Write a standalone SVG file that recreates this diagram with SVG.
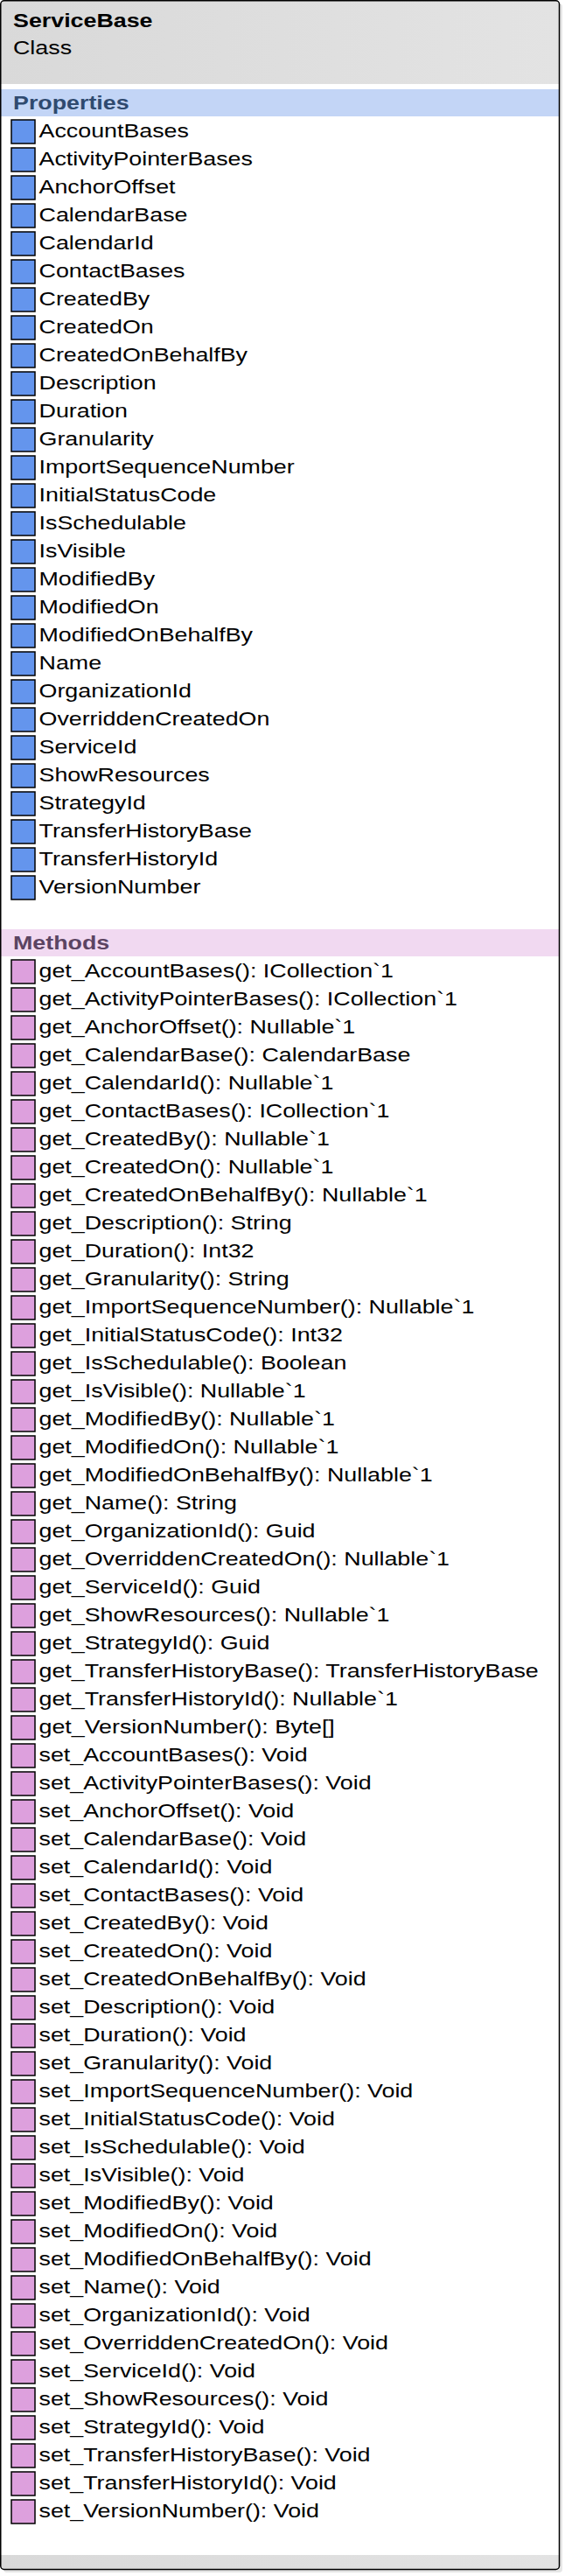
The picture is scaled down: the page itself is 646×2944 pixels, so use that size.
<svg xmlns="http://www.w3.org/2000/svg" width="646" height="2944" viewBox="0 0 646 2944">
<style>
.t{font-family:"Liberation Sans",Arial,sans-serif;font-size:22px;fill:#000}
.b{font-weight:bold}
.ph{fill:#2f4a6f}
.mh{fill:#5b4462}
.pi{fill:#6495ed;stroke:#000;stroke-width:1.5}
.mi{fill:#dda0dd;stroke:#000;stroke-width:1.5}
</style>
<defs>
<linearGradient id="hg" x1="0" y1="0" x2="1" y2="0">
<stop offset="0" stop-color="#d9d9d9"/>
<stop offset="1" stop-color="#e3e3e3"/>
</linearGradient>
<clipPath id="box"><rect x="0.75" y="0.75" width="638.75" height="2935.75" rx="4"/></clipPath>
</defs>
<rect width="646" height="2944" fill="#fff"/>
<g id="ServiceBase">
<rect x="4" y="4" width="639" height="2936" rx="4" fill="#e6e6e6"/>
<rect x="0.75" y="0.75" width="638.75" height="2935.75" rx="4" fill="#fff"/>
<g clip-path="url(#box)">
<rect x="0" y="0" width="640" height="96" fill="url(#hg)"/>
<rect x="0" y="102" width="640" height="31" fill="#c3d5f6"/>
<rect x="0" y="1062" width="640" height="31" fill="#f1d9f1"/>
<rect x="0" y="2920" width="640" height="17" fill="url(#hg)"/>
</g>
<rect x="0.75" y="0.75" width="638.75" height="2935.75" rx="4" fill="none" stroke="#000" stroke-width="1.5"/>
<g id="props-icons">
<rect class="pi" x="13" y="137" width="27" height="27"/>
<rect class="pi" x="13" y="169" width="27" height="27"/>
<rect class="pi" x="13" y="201" width="27" height="27"/>
<rect class="pi" x="13" y="233" width="27" height="27"/>
<rect class="pi" x="13" y="265" width="27" height="27"/>
<rect class="pi" x="13" y="297" width="27" height="27"/>
<rect class="pi" x="13" y="329" width="27" height="27"/>
<rect class="pi" x="13" y="361" width="27" height="27"/>
<rect class="pi" x="13" y="393" width="27" height="27"/>
<rect class="pi" x="13" y="425" width="27" height="27"/>
<rect class="pi" x="13" y="457" width="27" height="27"/>
<rect class="pi" x="13" y="489" width="27" height="27"/>
<rect class="pi" x="13" y="521" width="27" height="27"/>
<rect class="pi" x="13" y="553" width="27" height="27"/>
<rect class="pi" x="13" y="585" width="27" height="27"/>
<rect class="pi" x="13" y="617" width="27" height="27"/>
<rect class="pi" x="13" y="649" width="27" height="27"/>
<rect class="pi" x="13" y="681" width="27" height="27"/>
<rect class="pi" x="13" y="713" width="27" height="27"/>
<rect class="pi" x="13" y="745" width="27" height="27"/>
<rect class="pi" x="13" y="777" width="27" height="27"/>
<rect class="pi" x="13" y="809" width="27" height="27"/>
<rect class="pi" x="13" y="841" width="27" height="27"/>
<rect class="pi" x="13" y="873" width="27" height="27"/>
<rect class="pi" x="13" y="905" width="27" height="27"/>
<rect class="pi" x="13" y="937" width="27" height="27"/>
<rect class="pi" x="13" y="969" width="27" height="27"/>
<rect class="pi" x="13" y="1001" width="27" height="27"/>
</g>
<g id="method-icons">
<rect class="mi" x="13" y="1097" width="27" height="27"/>
<rect class="mi" x="13" y="1129" width="27" height="27"/>
<rect class="mi" x="13" y="1161" width="27" height="27"/>
<rect class="mi" x="13" y="1193" width="27" height="27"/>
<rect class="mi" x="13" y="1225" width="27" height="27"/>
<rect class="mi" x="13" y="1257" width="27" height="27"/>
<rect class="mi" x="13" y="1289" width="27" height="27"/>
<rect class="mi" x="13" y="1321" width="27" height="27"/>
<rect class="mi" x="13" y="1353" width="27" height="27"/>
<rect class="mi" x="13" y="1385" width="27" height="27"/>
<rect class="mi" x="13" y="1417" width="27" height="27"/>
<rect class="mi" x="13" y="1449" width="27" height="27"/>
<rect class="mi" x="13" y="1481" width="27" height="27"/>
<rect class="mi" x="13" y="1513" width="27" height="27"/>
<rect class="mi" x="13" y="1545" width="27" height="27"/>
<rect class="mi" x="13" y="1577" width="27" height="27"/>
<rect class="mi" x="13" y="1609" width="27" height="27"/>
<rect class="mi" x="13" y="1641" width="27" height="27"/>
<rect class="mi" x="13" y="1673" width="27" height="27"/>
<rect class="mi" x="13" y="1705" width="27" height="27"/>
<rect class="mi" x="13" y="1737" width="27" height="27"/>
<rect class="mi" x="13" y="1769" width="27" height="27"/>
<rect class="mi" x="13" y="1801" width="27" height="27"/>
<rect class="mi" x="13" y="1833" width="27" height="27"/>
<rect class="mi" x="13" y="1865" width="27" height="27"/>
<rect class="mi" x="13" y="1897" width="27" height="27"/>
<rect class="mi" x="13" y="1929" width="27" height="27"/>
<rect class="mi" x="13" y="1961" width="27" height="27"/>
<rect class="mi" x="13" y="1993" width="27" height="27"/>
<rect class="mi" x="13" y="2025" width="27" height="27"/>
<rect class="mi" x="13" y="2057" width="27" height="27"/>
<rect class="mi" x="13" y="2089" width="27" height="27"/>
<rect class="mi" x="13" y="2121" width="27" height="27"/>
<rect class="mi" x="13" y="2153" width="27" height="27"/>
<rect class="mi" x="13" y="2185" width="27" height="27"/>
<rect class="mi" x="13" y="2217" width="27" height="27"/>
<rect class="mi" x="13" y="2249" width="27" height="27"/>
<rect class="mi" x="13" y="2281" width="27" height="27"/>
<rect class="mi" x="13" y="2313" width="27" height="27"/>
<rect class="mi" x="13" y="2345" width="27" height="27"/>
<rect class="mi" x="13" y="2377" width="27" height="27"/>
<rect class="mi" x="13" y="2409" width="27" height="27"/>
<rect class="mi" x="13" y="2441" width="27" height="27"/>
<rect class="mi" x="13" y="2473" width="27" height="27"/>
<rect class="mi" x="13" y="2505" width="27" height="27"/>
<rect class="mi" x="13" y="2537" width="27" height="27"/>
<rect class="mi" x="13" y="2569" width="27" height="27"/>
<rect class="mi" x="13" y="2601" width="27" height="27"/>
<rect class="mi" x="13" y="2633" width="27" height="27"/>
<rect class="mi" x="13" y="2665" width="27" height="27"/>
<rect class="mi" x="13" y="2697" width="27" height="27"/>
<rect class="mi" x="13" y="2729" width="27" height="27"/>
<rect class="mi" x="13" y="2761" width="27" height="27"/>
<rect class="mi" x="13" y="2793" width="27" height="27"/>
<rect class="mi" x="13" y="2825" width="27" height="27"/>
<rect class="mi" x="13" y="2857" width="27" height="27"/>
</g>
<g id="texts" transform="scale(1.22,1)">
<text class="t b" x="12.3" y="31">ServiceBase</text>
<text class="t" x="12.3" y="62">Class</text>
<text class="t b ph" x="12.3" y="125">Properties</text>
<text class="t" x="36.5" y="157">AccountBases</text>
<text class="t" x="36.5" y="189">ActivityPointerBases</text>
<text class="t" x="36.5" y="221">AnchorOffset</text>
<text class="t" x="36.5" y="253">CalendarBase</text>
<text class="t" x="36.5" y="285">CalendarId</text>
<text class="t" x="36.5" y="317">ContactBases</text>
<text class="t" x="36.5" y="349">CreatedBy</text>
<text class="t" x="36.5" y="381">CreatedOn</text>
<text class="t" x="36.5" y="413">CreatedOnBehalfBy</text>
<text class="t" x="36.5" y="445">Description</text>
<text class="t" x="36.5" y="477">Duration</text>
<text class="t" x="36.5" y="509">Granularity</text>
<text class="t" x="36.5" y="541">ImportSequenceNumber</text>
<text class="t" x="36.5" y="573">InitialStatusCode</text>
<text class="t" x="36.5" y="605">IsSchedulable</text>
<text class="t" x="36.5" y="637">IsVisible</text>
<text class="t" x="36.5" y="669">ModifiedBy</text>
<text class="t" x="36.5" y="701">ModifiedOn</text>
<text class="t" x="36.5" y="733">ModifiedOnBehalfBy</text>
<text class="t" x="36.5" y="765">Name</text>
<text class="t" x="36.5" y="797">OrganizationId</text>
<text class="t" x="36.5" y="829">OverriddenCreatedOn</text>
<text class="t" x="36.5" y="861">ServiceId</text>
<text class="t" x="36.5" y="893">ShowResources</text>
<text class="t" x="36.5" y="925">StrategyId</text>
<text class="t" x="36.5" y="957">TransferHistoryBase</text>
<text class="t" x="36.5" y="989">TransferHistoryId</text>
<text class="t" x="36.5" y="1021">VersionNumber</text>
<text class="t b mh" x="12.3" y="1085">Methods</text>
<text class="t" x="36.5" y="1117">get_AccountBases(): ICollection`1</text>
<text class="t" x="36.5" y="1149">get_ActivityPointerBases(): ICollection`1</text>
<text class="t" x="36.5" y="1181">get_AnchorOffset(): Nullable`1</text>
<text class="t" x="36.5" y="1213">get_CalendarBase(): CalendarBase</text>
<text class="t" x="36.5" y="1245">get_CalendarId(): Nullable`1</text>
<text class="t" x="36.5" y="1277">get_ContactBases(): ICollection`1</text>
<text class="t" x="36.5" y="1309">get_CreatedBy(): Nullable`1</text>
<text class="t" x="36.5" y="1341">get_CreatedOn(): Nullable`1</text>
<text class="t" x="36.5" y="1373">get_CreatedOnBehalfBy(): Nullable`1</text>
<text class="t" x="36.5" y="1405">get_Description(): String</text>
<text class="t" x="36.5" y="1437">get_Duration(): Int32</text>
<text class="t" x="36.5" y="1469">get_Granularity(): String</text>
<text class="t" x="36.5" y="1501">get_ImportSequenceNumber(): Nullable`1</text>
<text class="t" x="36.5" y="1533">get_InitialStatusCode(): Int32</text>
<text class="t" x="36.5" y="1565">get_IsSchedulable(): Boolean</text>
<text class="t" x="36.5" y="1597">get_IsVisible(): Nullable`1</text>
<text class="t" x="36.5" y="1629">get_ModifiedBy(): Nullable`1</text>
<text class="t" x="36.5" y="1661">get_ModifiedOn(): Nullable`1</text>
<text class="t" x="36.5" y="1693">get_ModifiedOnBehalfBy(): Nullable`1</text>
<text class="t" x="36.5" y="1725">get_Name(): String</text>
<text class="t" x="36.5" y="1757">get_OrganizationId(): Guid</text>
<text class="t" x="36.5" y="1789">get_OverriddenCreatedOn(): Nullable`1</text>
<text class="t" x="36.5" y="1821">get_ServiceId(): Guid</text>
<text class="t" x="36.5" y="1853">get_ShowResources(): Nullable`1</text>
<text class="t" x="36.5" y="1885">get_StrategyId(): Guid</text>
<text class="t" x="36.5" y="1917">get_TransferHistoryBase(): TransferHistoryBase</text>
<text class="t" x="36.5" y="1949">get_TransferHistoryId(): Nullable`1</text>
<text class="t" x="36.5" y="1981">get_VersionNumber(): Byte[]</text>
<text class="t" x="36.5" y="2013">set_AccountBases(): Void</text>
<text class="t" x="36.5" y="2045">set_ActivityPointerBases(): Void</text>
<text class="t" x="36.5" y="2077">set_AnchorOffset(): Void</text>
<text class="t" x="36.5" y="2109">set_CalendarBase(): Void</text>
<text class="t" x="36.5" y="2141">set_CalendarId(): Void</text>
<text class="t" x="36.5" y="2173">set_ContactBases(): Void</text>
<text class="t" x="36.5" y="2205">set_CreatedBy(): Void</text>
<text class="t" x="36.5" y="2237">set_CreatedOn(): Void</text>
<text class="t" x="36.5" y="2269">set_CreatedOnBehalfBy(): Void</text>
<text class="t" x="36.5" y="2301">set_Description(): Void</text>
<text class="t" x="36.5" y="2333">set_Duration(): Void</text>
<text class="t" x="36.5" y="2365">set_Granularity(): Void</text>
<text class="t" x="36.5" y="2397">set_ImportSequenceNumber(): Void</text>
<text class="t" x="36.5" y="2429">set_InitialStatusCode(): Void</text>
<text class="t" x="36.5" y="2461">set_IsSchedulable(): Void</text>
<text class="t" x="36.5" y="2493">set_IsVisible(): Void</text>
<text class="t" x="36.5" y="2525">set_ModifiedBy(): Void</text>
<text class="t" x="36.5" y="2557">set_ModifiedOn(): Void</text>
<text class="t" x="36.5" y="2589">set_ModifiedOnBehalfBy(): Void</text>
<text class="t" x="36.5" y="2621">set_Name(): Void</text>
<text class="t" x="36.5" y="2653">set_OrganizationId(): Void</text>
<text class="t" x="36.5" y="2685">set_OverriddenCreatedOn(): Void</text>
<text class="t" x="36.5" y="2717">set_ServiceId(): Void</text>
<text class="t" x="36.5" y="2749">set_ShowResources(): Void</text>
<text class="t" x="36.5" y="2781">set_StrategyId(): Void</text>
<text class="t" x="36.5" y="2813">set_TransferHistoryBase(): Void</text>
<text class="t" x="36.5" y="2845">set_TransferHistoryId(): Void</text>
<text class="t" x="36.5" y="2877">set_VersionNumber(): Void</text>
</g>
</g>
<g id="connectors"/>
</svg>
